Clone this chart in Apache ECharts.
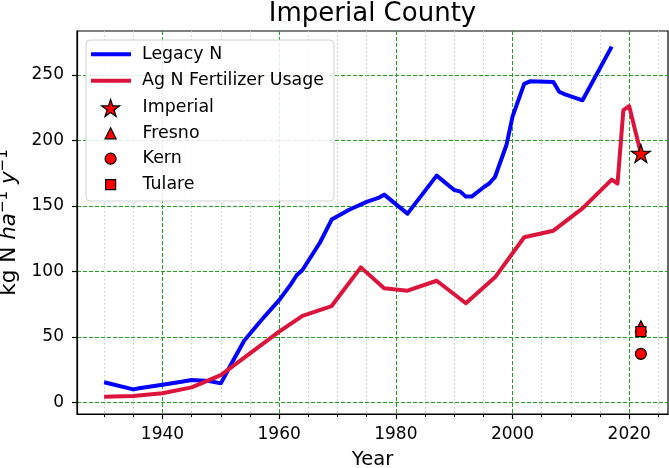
<!DOCTYPE html>
<html>
<head>
<meta charset="utf-8">
<script src="https://cdn.jsdelivr.net/npm/echarts@6/dist/echarts.min.js"></script>
<style>
html,body{margin:0;padding:0;background:#fff;}
#chart{width:669px;height:468px;}
</style>
</head>
<body>
<div id="chart"></div>
<script>
// ---- data ----
const legacyYears  = [1930, 1935, 1936, 1940, 1943, 1945, 1948, 1950, 1952, 1954, 1957, 1960, 1962, 1963, 1964, 1967, 1969, 1972, 1975, 1977, 1978, 1982, 1987, 1990, 1991, 1992, 1993, 1995, 1996, 1997, 1999, 2000, 2002, 2003, 2007, 2008, 2009, 2012, 2017];
const legacyValues = [15.3, 9.9, 10.7, 13.5, 15.5, 17, 16.3, 14.5, 31, 47, 63, 78, 90, 97, 101, 122, 139.5, 147, 153, 156, 158.5, 144, 173, 162, 161, 157, 157, 164, 167, 172, 197, 218, 243, 245, 244.5, 237, 235, 230.5, 271.5];

const fertYears  = [1930, 1935, 1940, 1945, 1950, 1955, 1960, 1964, 1969, 1974, 1978, 1982, 1987, 1992, 1997, 2002, 2007, 2012, 2017, 2018, 2019, 2020, 2022];
const fertValues = [4.3, 4.8, 6.9, 11.4, 20.8, 37.4, 54, 66, 73.5, 103, 87, 85.2, 92.8, 75.6, 95.4, 126, 131, 148, 170, 167, 223, 226, 190];

const countyNames  = ['Imperial', 'Fresno', 'Kern', 'Tulare'];
const countyYears  = [2022, 2022, 2022, 2022];
const countyValues = [190, 58, 37, 54];

const xTickValues = [1940, 1960, 1980, 2000, 2020];
const yTickValues = [0, 50, 100, 150, 200, 250];

const titleText = 'Imperial County';
const xAxisTitle = 'Year';
const lineNames = ['Legacy N', 'Ag N Fertilizer Usage'];

// ---- styling ----
const FONT = 'DejaVu Sans';
const STAR = 'path://M0,-10 L2.245,-3.09 L9.511,-3.09 L3.633,1.18 L5.878,8.09 L0,3.82 L-5.878,8.09 L-3.633,1.18 L-9.511,-3.09 L-2.245,-3.09 Z';
const countySymbols = [STAR, 'triangle', 'circle', 'rect'];
const countySizes = [19, 11, 11, 10];
const legendSizes = [18, 11, 11, 10];
const markerStyle = {color: '#ff0000', borderColor: '#000000', borderWidth: 1.2, opacity: 1};
const GRID_GREEN = '#1ea01e';

const gridBox = {left: 77, right: 1, top: 31, bottom: 54};

const series = [
  {
    name: lineNames[0], type: 'line', showSymbol: false, symbol: 'none',
    data: legacyYears.map((y, i) => [y, legacyValues[i]]),
    lineStyle: {color: '#0000ff', width: 4, cap: 'butt', join: 'round'},
    itemStyle: {color: '#0000ff'}, z: 3
  },
  {
    name: lineNames[1], type: 'line', showSymbol: false, symbol: 'none',
    data: fertYears.map((y, i) => [y, fertValues[i]]),
    lineStyle: {color: '#dc143c', width: 4, cap: 'butt', join: 'round'},
    itemStyle: {color: '#dc143c'}, z: 4
  }
];
countyNames.forEach((n, i) => {
  series.push({
    name: n, type: 'scatter',
    data: [[countyYears[i], countyValues[i]]],
    symbol: countySymbols[i], symbolSize: countySizes[i], symbolKeepAspect: true,
    itemStyle: markerStyle, z: 5 + i
  });
});

// legend rows (y centre in px)
const rowCentres = [54.3, 80.7, 107.3, 133.3, 158.7, 184.7];
const legendText = {fontFamily: FONT, fontSize: 17.4, color: '#000', lineHeight: 17};
const legends = [];
lineNames.forEach((n, i) => {
  legends.push({
    data: [{name: n, icon: 'rect'}], left: 91, top: rowCentres[i] - 8.5, padding: 0,
    itemWidth: 40, itemHeight: 4, z: 20,
    itemStyle: {borderWidth: 0},
    textStyle: Object.assign({padding: [0, 0, 0, 6]}, legendText)
  });
});
countyNames.forEach((n, i) => {
  const s = legendSizes[i];
  legends.push({
    data: [{name: n, icon: countySymbols[i]}], left: 110 - s / 2, top: rowCentres[i + 2] - 8.5, padding: 0,
    itemWidth: s, itemHeight: s, z: 20,
    itemStyle: {color: '#ff0000', borderColor: '#000', borderWidth: 1.2, opacity: 1},
    textStyle: Object.assign({padding: [0, 0, 0, 27 - s / 2]}, legendText)
  });
});

const option = {
  animation: false,
  backgroundColor: '#ffffff',
  textStyle: {fontFamily: FONT},
  title: {
    text: titleText, left: 372.5, top: 1, textAlign: 'center', padding: 0,
    textStyle: {fontFamily: FONT, fontSize: 26, fontWeight: 'normal', color: '#000'}
  },
  grid: Object.assign({show: true, borderColor: '#000', borderWidth: 1.2, backgroundColor: 'transparent',
    containLabel: false, outerBoundsMode: 'none'}, gridBox),
  xAxis: {
    type: 'value', min: 1925.35, max: 2026.65, minInterval: 20, maxInterval: 20,
    name: xAxisTitle, nameLocation: 'middle', nameGap: 35.5,
    nameTextStyle: {fontFamily: FONT, fontSize: 19.5, color: '#000'},
    axisLine: {show: true, onZero: false, lineStyle: {color: '#000', width: 1.2}},
    axisTick: {show: true, length: 5, customValues: xTickValues, lineStyle: {color: '#000', width: 1.2}},
    minorTick: {show: true, splitNumber: 4, length: 3, lineStyle: {color: '#000', width: 1}},
    axisLabel: {
      customValues: xTickValues,
      fontFamily: FONT, fontSize: 17, color: '#000', margin: 12,
      formatter: v => (Math.abs(v % 20) < 1e-6 ? String(v) : '')
    },
    splitLine: {show: true, lineStyle: {color: GRID_GREEN, width: 1, type: [4, 2]}},
    minorSplitLine: {show: true, lineStyle: {color: '#c8c8c8', width: 1, type: [1.5, 2.5]}}
  },
  yAxis: {
    type: 'value', min: -8.9, max: 283.4, minInterval: 50, maxInterval: 50,
    name: '{a|kg N }{b|ha}{c|−1}{a| }{b|y}{c|−1}', nameLocation: 'middle', nameGap: 52, nameRotate: 90,
    nameTextStyle: {
      fontFamily: FONT, color: '#000',
      rich: {
        a: {fontFamily: FONT, fontSize: 21.5, lineHeight: 28, color: '#000', verticalAlign: 'middle'},
        b: {fontFamily: FONT, fontSize: 21.5, lineHeight: 28, fontStyle: 'italic', color: '#000', verticalAlign: 'middle'},
        c: {fontFamily: FONT, fontSize: 15, lineHeight: 15, color: '#000', verticalAlign: 'top'}
      }
    },
    axisLine: {show: true, onZero: false, lineStyle: {color: '#000', width: 1.2}},
    axisTick: {show: true, length: 5, customValues: yTickValues, lineStyle: {color: '#000', width: 1.2}},
    axisLabel: {
      customValues: yTickValues,
      fontFamily: FONT, fontSize: 17, color: '#000', margin: 13,
      formatter: v => (Math.abs(v % 50) < 1e-6 ? String(v) : '')
    },
    splitLine: {show: true, lineStyle: {color: GRID_GREEN, width: 1, type: [4, 2]}}
  },
  legend: legends,
  graphic: [{
    type: 'rect', z: 15,
    shape: {x: 86, y: 40, width: 248, height: 161, r: 4},
    style: {fill: 'rgba(255,255,255,0.85)', stroke: '#d0d0d0', lineWidth: 1}
  }],
  series: series
};

const chart = echarts.init(document.getElementById('chart'), null, {renderer: 'canvas'});
chart.setOption(option);
</script>
</body>
</html>
